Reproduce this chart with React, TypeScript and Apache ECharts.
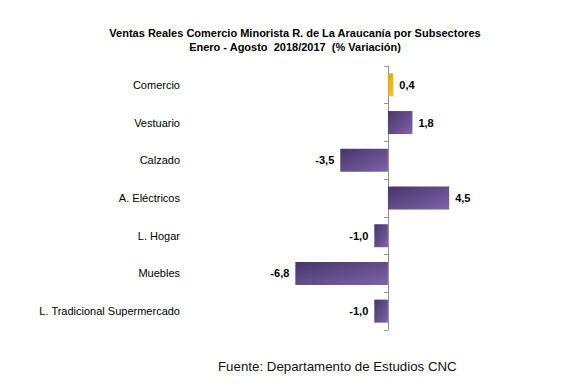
import React, { useEffect, useRef } from "react";
import * as echarts from "echarts";

const categories = [
  "Comercio",
  "Vestuario",
  "Calzado",
  "A. Eléctricos",
  "L. Hogar",
  "Muebles",
  "L. Tradicional Supermercado",
];
const values = [0.4, 1.8, -3.5, 4.5, -1.0, -6.8, -1.0];
const titleLines = [
  "Ventas Reales Comercio Minorista R. de La Araucanía por Subsectores",
  "Enero - Agosto  2018/2017  (% Variación)",
];
const footer = "Fuente: Departamento de Estudios CNC";

const purple = new echarts.graphic.LinearGradient(0, 0, 1, 1, [
  { offset: 0, color: "#46356a" },
  { offset: 1, color: "#7e63a9" },
]);
const gold = new echarts.graphic.LinearGradient(0, 0, 1, 1, [
  { offset: 0, color: "#e3a200" },
  { offset: 1, color: "#f7c435" },
]);

export default function App() {
  const ref = useRef<HTMLDivElement>(null);
  useEffect(() => {
    if (!ref.current) return;
    const chart = echarts.init(ref.current, null, { renderer: "svg" });
    chart.setOption({
      animation: false,
      backgroundColor: "#ffffff",
      title: {
        text: titleLines.join("\n"),
        left: 290,
        textAlign: "center",
        top: 21,
        textStyle: {
          fontFamily: "Liberation Sans, Arial, sans-serif",
          fontSize: 11,
          fontWeight: "bold",
          color: "#000",
          lineHeight: 14,
        },
      },
      graphic: [
        {
          type: "text",
          left: 218,
          top: 360,
          style: {
            text: footer,
            fontFamily: "Liberation Sans, Arial, sans-serif",
            fontSize: 13.3,
            fill: "#111",
          },
        },
      ],
      grid: {
        left: 279,
        top: 66,
        width: 190.6,
        height: 264,
        containLabel: false,
        outerBoundsMode: "none",
      },
      xAxis: {
        type: "value",
        min: -8,
        max: 6,
        show: false,
        splitLine: { show: false },
      },
      yAxis: {
        type: "category",
        data: categories,
        inverse: true,
        axisLine: { show: true, onZero: true, lineStyle: { color: "#909090", width: 1 } },
        axisTick: { show: true, length: 4, lineStyle: { color: "#909090" } },
        axisLabel: {
          margin: 99,
          fontFamily: "Liberation Sans, Arial, sans-serif",
          fontSize: 11,
          color: "#000",
        },
      },
      series: [
        {
          type: "bar",
          barWidth: 23,
          data: values.map((v, i) => ({
            value: v,
            itemStyle: { color: i === 0 ? gold : purple },
            label: { position: v >= 0 ? "right" : "left" },
          })),
          label: {
            show: true,
            distance: 6,
            fontFamily: "Liberation Sans, Arial, sans-serif",
            fontSize: 11,
            fontWeight: "bold",
            color: "#000",
            formatter: (p: any) => p.value.toFixed(1).replace(".", ","),
          },
        },
      ],
    });
    return () => chart.dispose();
  }, []);
  return (
    <div
      ref={ref}
      style={{ position: "fixed", left: 0, top: 0, width: 561, height: 386 }}
    />
  );
}
